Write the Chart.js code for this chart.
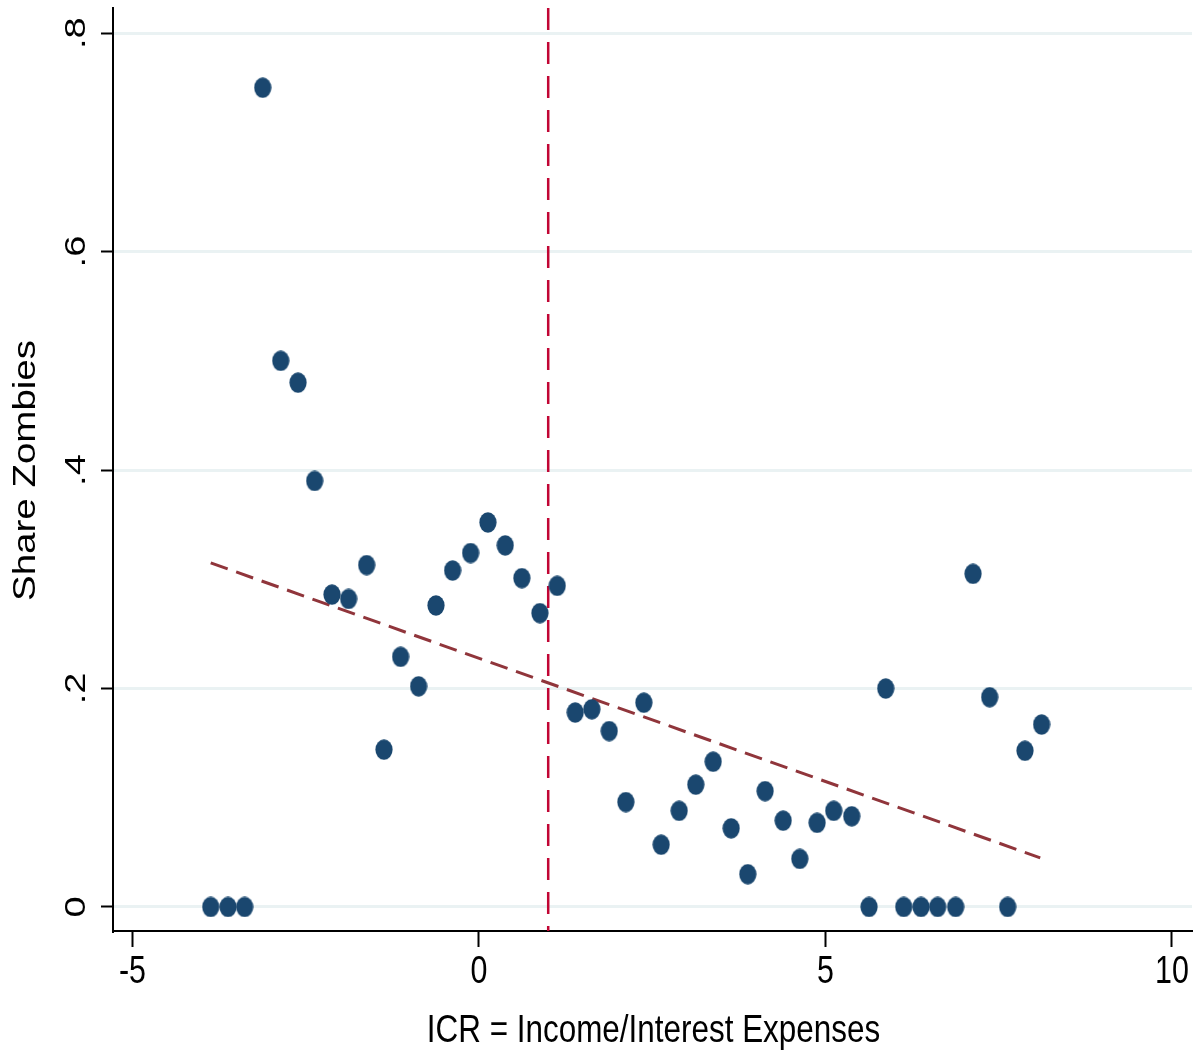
<!DOCTYPE html>
<html lang="en">
<head>
  <meta charset="UTF-8">
  <title>Share Zombies vs ICR</title>
  <script src="https://cdn.jsdelivr.net/npm/chart.js"></script>
  <style>
    html, body { margin: 0; padding: 0; background: #fff; }
    #wrap { width: 1197px; height: 1053px; }
  </style>
</head>
<body>
  <div id="wrap"><canvas id="zombieChart" width="1197" height="1053"></canvas></div>

  <script>
    // binned scatter: ICR bins vs share of zombie firms
    const icr = [-3.87, -3.62, -3.38, -3.12, -2.86, -2.61, -2.37, -2.12, -1.88, -1.62,
                 -1.37, -1.13, -0.87, -0.62, -0.38, -0.12, 0.13, 0.38, 0.62, 0.88,
                 1.13, 1.39, 1.63, 1.88, 2.12, 2.38, 2.63, 2.89, 3.13, 3.38,
                 3.64, 3.88, 4.13, 4.39, 4.63, 4.88, 5.12, 5.38, 5.63, 5.87,
                 6.13, 6.38, 6.62, 6.88, 7.13, 7.37, 7.63, 7.88, 8.12];
    const shareZombies = [0, 0, 0, 0.750, 0.500, 0.480, 0.390, 0.286, 0.282, 0.313,
                          0.144, 0.229, 0.202, 0.276, 0.308, 0.324, 0.352, 0.331, 0.301, 0.269,
                          0.294, 0.178, 0.181, 0.161, 0.096, 0.187, 0.057, 0.088, 0.112, 0.133,
                          0.072, 0.030, 0.106, 0.079, 0.044, 0.077, 0.088, 0.083, 0, 0.200,
                          0, 0, 0, 0, 0.305, 0.192, 0, 0.143, 0.167];

    // linear fit end points
    const fitX = [-3.87, 8.10];
    const fitY = [0.315, 0.045];

    // threshold line
    const cutoff = 1;

    const xTicks = [-5, 0, 5, 10];
    const xTickLabels = ["-5", "0", "5", "10"];
    const yTicks = [0, 0.2, 0.4, 0.6, 0.8];
    const yTickLabels = ["0", ".2", ".4", ".6", ".8"];
    const xTitle = "ICR = Income/Interest Expenses";
    const yTitle = "Share Zombies";

    const xMin = -5.28, xMax = 10.29;
    const yMin = -0.022, yMax = 0.823;

    const navy = "#1a476f";
    const maroon = "#90353b";
    const crimson = "#c10534";
    const gridCol = "#eaf2f3";

    // oval marker (the original is squeezed horizontally)
    const dot = document.createElement("canvas");
    dot.width = 18; dot.height = 21;
    const dctx = dot.getContext("2d");
    dctx.fillStyle = navy;
    dctx.beginPath();
    dctx.ellipse(9, 10.5, 8.6, 10.2, 0, 0, Math.PI * 2);
    dctx.fill();

    const family = "'Liberation Sans', Arial, sans-serif";

    // all text squeezed to 80% width, like the stretched Stata export
    const axisText = {
      id: "axisText",
      afterDraw(chart) {
        const ctx = chart.ctx;
        const x = chart.scales.x;
        const y = chart.scales.y;
        const area = chart.chartArea;
        ctx.save();
        ctx.fillStyle = "#000";
        ctx.textAlign = "center";
        ctx.textBaseline = "alphabetic";

        const put = (txt, px, py, rot, size) => {
          ctx.save();
          ctx.font = size + "px " + family;
          ctx.translate(px, py);
          ctx.scale(0.8, 1);
          if (rot) ctx.rotate(-Math.PI / 2);
          ctx.fillText(txt, 0, 0);
          ctx.restore();
        };

        yTicks.forEach((v, i) => put(yTickLabels[i], 85, y.getPixelForValue(v), true, 38));
        put(yTitle, 35, (area.top + area.bottom) / 2 + 1, true, 38.5);

        xTicks.forEach((v, i) => put(xTickLabels[i], x.getPixelForValue(v), 983, false, 38));
        put(xTitle, (area.left + area.right) / 2 + 1, 1042, false, 39.3);
        ctx.restore();
      }
    };

    new Chart(document.getElementById("zombieChart"), {
      type: "scatter",
      data: {
        datasets: [
          {
            label: "Share Zombies",
            data: icr.map((x, i) => ({ x: x, y: shareZombies[i] })),
            pointStyle: dot,
            pointRadius: 10,
            pointHoverRadius: 10
          },
          {
            type: "line",
            label: "Fit",
            data: fitX.map((x, i) => ({ x: x, y: fitY[i] })),
            borderColor: maroon,
            borderWidth: 3,
            borderDash: [18, 9],
            pointRadius: 0,
            fill: false
          },
          {
            type: "line",
            label: "Cutoff",
            data: [{ x: cutoff, y: yMax }, { x: cutoff, y: yMin }],
            borderColor: crimson,
            borderWidth: 2.5,
            borderDash: [22, 12],
            pointRadius: 0,
            fill: false
          }
        ]
      },
      options: {
        responsive: false,
        animation: false,
        layout: { autoPadding: false, padding: { left: 101, top: 8, right: 5, bottom: 106 } },
        plugins: {
          legend: { display: false },
          tooltip: { enabled: false }
        },
        scales: {
          x: {
            type: "linear",
            min: xMin,
            max: xMax,
            afterBuildTicks: s => { s.ticks = xTicks.map(v => ({ value: v })); },
            grid: { drawOnChartArea: false, tickLength: 16, tickColor: "#000", tickWidth: 2 },
            border: { color: "#000", width: 2 },
            ticks: { display: false }
          },
          y: {
            type: "linear",
            min: yMin,
            max: yMax,
            afterBuildTicks: s => { s.ticks = yTicks.map(v => ({ value: v })); },
            grid: { color: gridCol, lineWidth: 3, tickLength: 12, tickColor: "#000", tickWidth: 2 },
            border: { color: "#000", width: 2 },
            ticks: { display: false }
          }
        }
      },
      plugins: [axisText]
    });
  </script>
</body>
</html>
